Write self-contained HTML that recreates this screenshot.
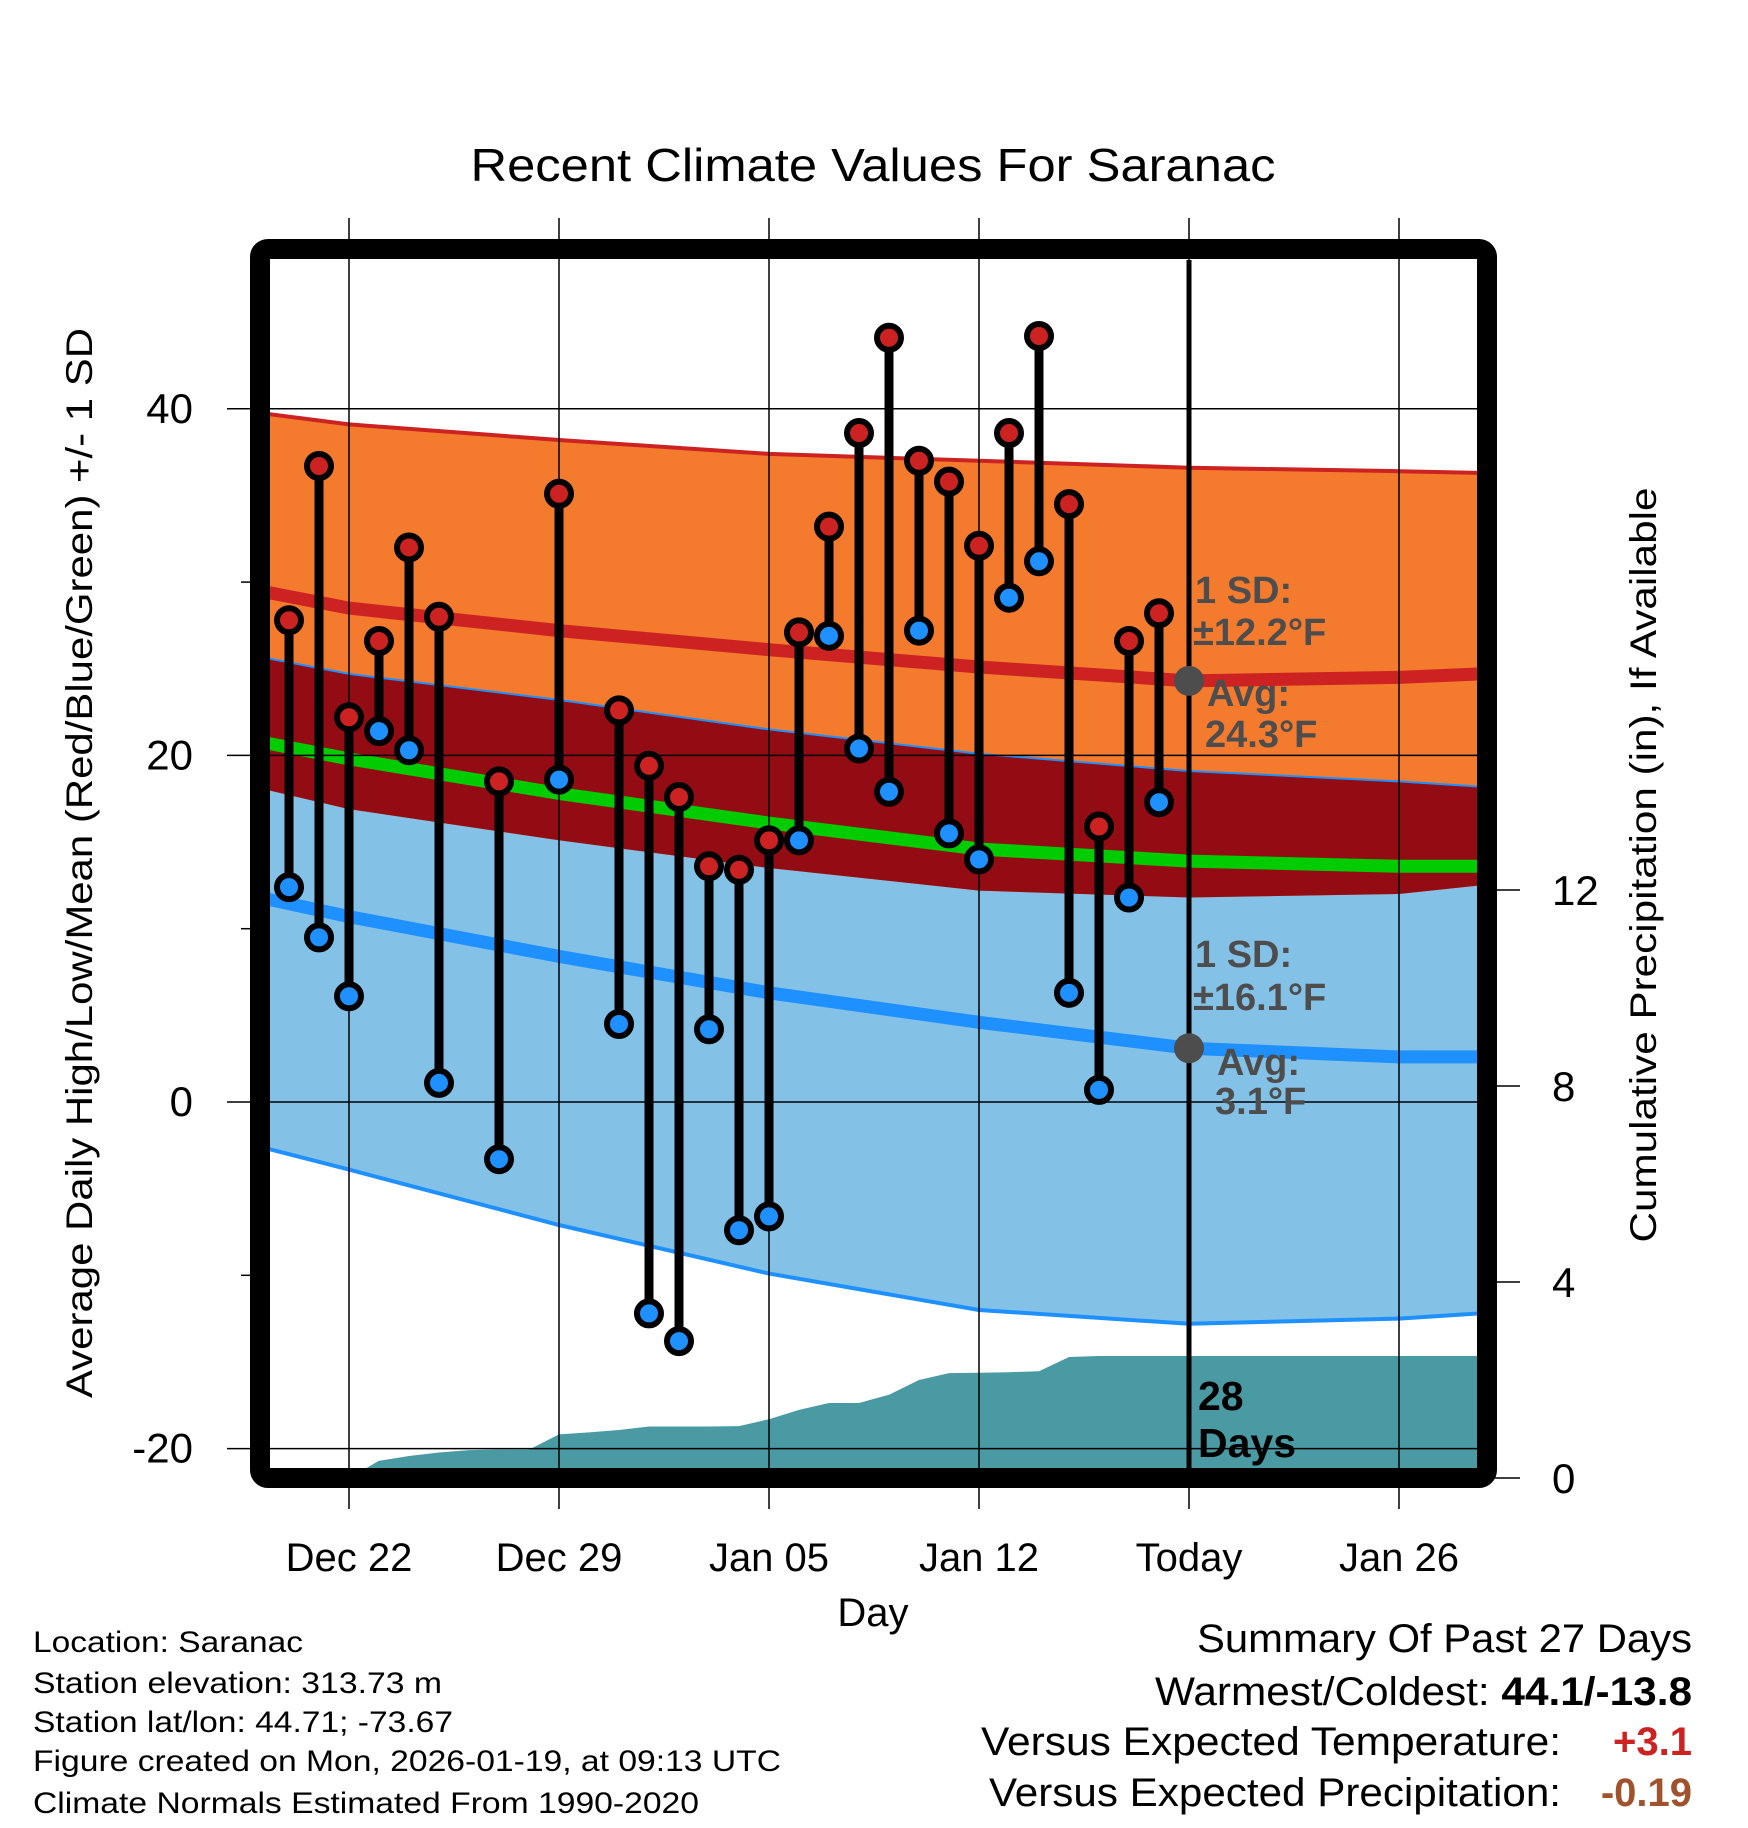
<!DOCTYPE html>
<html><head><meta charset="utf-8"><style>
html,body{margin:0;padding:0;background:#fff;}
svg{display:block;font-family:"Liberation Sans",Arial,sans-serif;}
</style></head><body>
<svg id="chart" width="1748" height="1828" viewBox="0 0 1748 1828" xmlns="http://www.w3.org/2000/svg">
<defs><clipPath id="plotclip"><rect x="270" y="260" width="1208" height="1208"/></clipPath></defs>
<rect x="0" y="0" width="1748" height="1828" fill="#fff"/>
<text x="873" y="181" font-size="46" text-anchor="middle" textLength="805" lengthAdjust="spacingAndGlyphs">Recent Climate Values For Saranac</text>
<g id="bands" clip-path="url(#plotclip)"></g>
<g id="grid"></g>
<g id="marks" clip-path="url(#plotclip)"></g>
<g id="axes"></g>
<rect x="260" y="249" width="1227" height="1229" rx="8" fill="none" stroke="#000" stroke-width="20"/>
<text transform="translate(92,863) rotate(-90)" font-size="37" text-anchor="middle" textLength="1070" lengthAdjust="spacingAndGlyphs">Average Daily High/Low/Mean (Red/Blue/Green) +/- 1 SD</text>
<text transform="translate(1656,865) rotate(-90)" font-size="37" text-anchor="middle" textLength="755" lengthAdjust="spacingAndGlyphs">Cumulative Precipitation (in), If Available</text>
<text x="873" y="1626" font-size="40" text-anchor="middle">Day</text>
<g font-size="30">
<text x="33" y="1652" textLength="270" lengthAdjust="spacingAndGlyphs">Location: Saranac</text>
<text x="33" y="1693" textLength="409" lengthAdjust="spacingAndGlyphs">Station elevation: 313.73 m</text>
<text x="33" y="1732" textLength="420" lengthAdjust="spacingAndGlyphs">Station lat/lon: 44.71; -73.67</text>
<text x="33" y="1771" textLength="748" lengthAdjust="spacingAndGlyphs">Figure created on Mon, 2026-01-19, at 09:13 UTC</text>
<text x="33" y="1813" textLength="666" lengthAdjust="spacingAndGlyphs">Climate Normals Estimated From 1990-2020</text>
</g>
<g font-size="40" text-anchor="end">
<text x="1692" y="1652" textLength="495" lengthAdjust="spacingAndGlyphs">Summary Of Past 27 Days</text>
<text x="1692" y="1705" textLength="537" lengthAdjust="spacingAndGlyphs">Warmest/Coldest: <tspan font-weight="bold">44.1/-13.8</tspan></text>
<text x="1561" y="1755" textLength="580" lengthAdjust="spacingAndGlyphs">Versus Expected Temperature:</text>
<text x="1692" y="1755" font-weight="bold" fill="#cc2222">+3.1</text>
<text x="1561" y="1806" textLength="572" lengthAdjust="spacingAndGlyphs">Versus Expected Precipitation:</text>
<text x="1692" y="1806" font-weight="bold" fill="#a0522d">-0.19</text>
</g>
</svg>
<script>
// ---- data ----
const obsDays = [-2,-1,0,1,2,3,5,7,9,10,11,12,13,14,15,16,17,18,19,20,21,22,23,24,25,26,27];
const obsHigh = [27.8,36.7,22.2,26.6,32.0,28.0,18.5,35.1,22.6,19.4,17.6,13.6,13.4,15.1,27.1,33.2,38.6,44.1,37.0,35.8,32.1,38.6,44.2,34.5,15.9,26.6,28.2];
const obsLow  = [12.4,9.5,6.1,21.4,20.3,1.1,-3.3,18.6,4.5,-12.2,-13.8,4.2,-7.4,-6.6,15.1,26.9,20.4,17.9,27.2,15.5,14.0,29.1,31.2,6.3,0.7,11.8,17.3];
const normDays = [-2.7,0,7,14,21,28,35,37.7];
const normHighTop = [39.7,39.1,38.2,37.4,37.0,36.6,36.4,36.3];
const normHighMean = [29.4,28.5,27.2,26.1,25.1,24.3,24.5,24.7];
const normHighBot = [18.0,16.9,15.1,13.5,12.2,11.8,12.0,12.5];
const normLowTop = [25.6,24.7,23.2,21.5,20.1,19.1,18.5,18.2];
const normLowMean = [11.7,10.7,8.4,6.3,4.6,3.1,2.6,2.6];
const normLowBot = [-2.7,-3.9,-7.1,-9.9,-12.0,-12.8,-12.5,-12.2];
const normMean = [20.7,19.8,17.8,16.1,14.6,13.9,13.6,13.6];
const precipDays = [-2.7,0,1,2,3,4,5,6,7,8,9,10,11,12,13,14,15,16,17,18,19,20,21,22,23,24,25,37.7];
const precipCum = [0,0,0.35,0.45,0.52,0.57,0.58,0.58,0.89,0.93,0.98,1.05,1.05,1.05,1.06,1.2,1.39,1.53,1.53,1.7,2.0,2.14,2.15,2.16,2.18,2.47,2.49,2.49];
const xTickDays = [0,7,14,21,28,35];
const xTickLabels = ["Dec 22","Dec 29","Jan 05","Jan 12","Today","Jan 26"];
const yTicks = [40,20,0,-20];
const yMinorTicks = [30,10,-10];
const y2Ticks = [0,4,8,12];
const todayDay = 28;
const highAvgLabel = 24.3, lowAvgLabel = 3.1;

// ---- scales ----
const X = d => 349 + 30*d;
const Y = t => 1102 - t*17.33;
const Y2 = p => 1478 - p*49;
const NS = "http://www.w3.org/2000/svg";
function mk(tag, parent, attrs){ const e=document.createElementNS(NS,tag); for(const k in attrs) e.setAttribute(k,attrs[k]); parent.appendChild(e); return e; }
const bands=document.getElementById('bands'), grid=document.getElementById('grid'), marks=document.getElementById('marks'), axes=document.getElementById('axes');
const pts = (ds, vs, f) => ds.map((d,i)=>X(d).toFixed(1)+','+f(vs[i]).toFixed(1));
function area(top, bot, fill, name){
  const p = pts(normDays, top, Y).concat(pts(normDays, bot, Y).reverse());
  const e = mk('polygon', bands, {points:p.join(' '), fill:fill});
  
  
}
function line(vals, color, w, name){
  const e = mk('polyline', bands, {points:pts(normDays, vals, Y).join(' '), fill:'none', stroke:color, 'stroke-width':w});
  
  
}
area(normLowTop, normLowBot, '#84c1e6', 'low-sd-band');
area(normHighTop, normHighBot, '#f47a2e', 'high-sd-band');
area(normLowTop, normHighBot, '#930c14', 'overlap-band');
line(normHighTop, '#cc2222', 4, 'high-plus-sd-line');
line(normLowTop, '#1e90ff', 2, 'low-plus-sd-line');
line(normLowBot, '#1e90ff', 4, 'low-minus-sd-line');
line(normHighMean, '#cc2222', 13, 'mean-high-line');
line(normLowMean, '#1e90ff', 13, 'mean-low-line');
line(normMean, '#00cc00', 13, 'mean-line');
// precip
{
  const p = pts(precipDays, precipCum, Y2);
  p.push(X(precipDays[precipDays.length-1]).toFixed(1)+','+Y2(0));
  p.push(X(precipDays[0]).toFixed(1)+','+Y2(0));
  const e = mk('polygon', bands, {points:p.join(' '), fill:'#4a9aa3'});
  
  
}
// grid
xTickDays.forEach((d,i)=>{
  const g = mk('line', grid, {x1:X(d), x2:X(d), y1:218, y2:1509, stroke:'#000', 'stroke-width':1.5});
  
  
  const t = mk('text', axes, {x:X(d), y:1571, 'font-size':40, 'text-anchor':'middle'});
  t.textContent = xTickLabels[i];
  
  
});
yTicks.forEach(v=>{
  const g = mk('line', grid, {x1:227, x2:1478, y1:Y(v), y2:Y(v), stroke:'#000', 'stroke-width':1.5});
  
  
  const t = mk('text', axes, {x:193, y:Y(v)+14, 'font-size':42, 'text-anchor':'end'});
  t.textContent = v;
  
  
});
yMinorTicks.forEach(v=>{
  const g = mk('line', axes, {x1:241, x2:252, y1:Y(v), y2:Y(v), stroke:'#000', 'stroke-width':1.5});
  
  
});
y2Ticks.forEach(v=>{
  const g = mk('line', axes, {x1:1490, x2:1520, y1:Y2(v), y2:Y2(v), stroke:'#000', 'stroke-width':1.5});
  
  
  const t = mk('text', axes, {x:1552, y:Y2(v)+15, 'font-size':42, 'text-anchor':'start'});
  t.textContent = v;
  
  
});
// observations
obsDays.forEach((d,i)=>{
  const s = mk('line', marks, {x1:X(d), x2:X(d), y1:Y(obsHigh[i]), y2:Y(obsLow[i]), stroke:'#000', 'stroke-width':9});
  
  
});
obsDays.forEach((d,i)=>{
  const h = mk('circle', marks, {cx:X(d), cy:Y(obsHigh[i]), r:12, fill:'#cc2222', stroke:'#000', 'stroke-width':6});
  
  
  const l = mk('circle', marks, {cx:X(d), cy:Y(obsLow[i]), r:12, fill:'#1e90ff', stroke:'#000', 'stroke-width':6});
  
  
});
// today line
{
  const e = mk('line', marks, {x1:X(todayDay), x2:X(todayDay), y1:250, y2:1470, stroke:'#000', 'stroke-width':5});
  
  
  const a = mk('circle', marks, {cx:X(todayDay), cy:Y(highAvgLabel), r:15, fill:'#4d4d4d'});
  
  
  const b = mk('circle', marks, {cx:X(todayDay), cy:Y(lowAvgLabel), r:15, fill:'#4d4d4d'});
  
  
}
const labels = [
 [1195,603,'1 SD:','high-sd-label'],[1193,645,'\u00b112.2\u00b0F','high-sd-value'],
 [1207,706,'Avg:','high-avg-label'],[1205,747,highAvgLabel+'\u00b0F','high-avg-value'],
 [1195,967,'1 SD:','low-sd-label'],[1193,1010,'\u00b116.1\u00b0F','low-sd-value'],
 [1217,1075,'Avg:','low-avg-label'],[1215,1114,lowAvgLabel+'\u00b0F','low-avg-value'],
 [1198,1410,'28','days-count'],[1198,1457,'Days','days-label']
];
labels.forEach(l=>{
  const isDays = l[3].startsWith('days');
  const t = mk('text', marks, {x:l[0], y:l[1], 'font-size': isDays?41:38, 'font-weight':'bold', fill: isDays?'#000':'#4d4d4d'});
  t.textContent = l[2];
  
  
});
</script>
</body></html>
